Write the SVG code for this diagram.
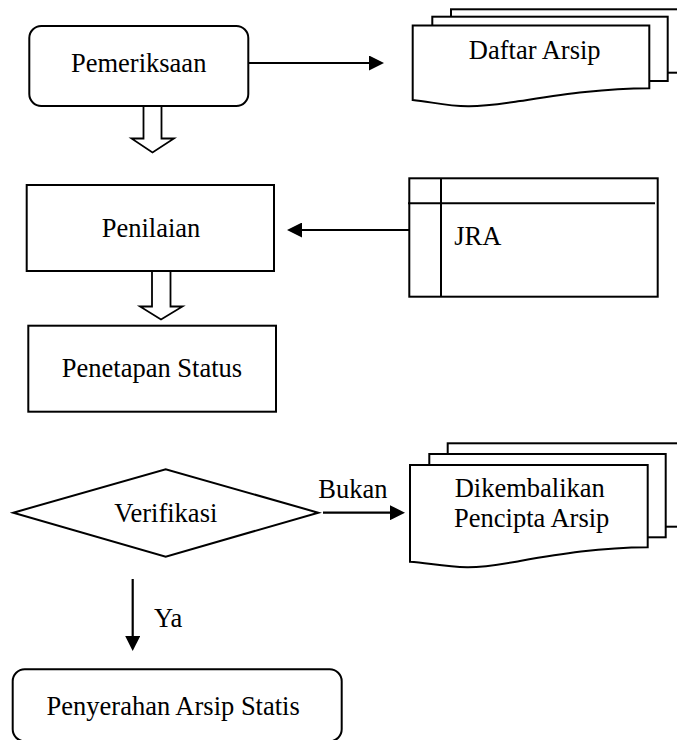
<svg xmlns="http://www.w3.org/2000/svg" width="677" height="740" viewBox="0 0 677 740">
<style>
  .shape { fill: #ffffff; stroke: #000000; stroke-width: 2; stroke-linejoin: miter; }
  .line { fill: none; stroke: #000000; stroke-width: 2; }
  .conn { fill: none; stroke: #000000; stroke-width: 2.2; }
  .hollow { fill: #ffffff; stroke: #000000; stroke-width: 1.8; stroke-linejoin: miter; }
  text { font-family: 'Liberation Serif', 'Times New Roman', 'DejaVu Serif', serif; font-size: 26.5px; fill: #000000; }
  .mid { text-anchor: middle; }
</style>
<defs>
  <marker id="head" markerUnits="userSpaceOnUse" markerWidth="15" markerHeight="15" viewBox="0 0 15 15" refX="7" refY="7.5" orient="auto">
    <path d="M0,0 L15,7.5 L0,15 Z" fill="#000000"/>
  </marker>
</defs>
<rect width="677" height="740" fill="#ffffff"/>

<g font-family="Liberation Serif, Times New Roman, DejaVu Serif, serif" font-size="26.5">
<g id="connectors">
  <line class="conn" x1="248" y1="63" x2="376" y2="63" marker-end="url(#head)"/>
  <line class="conn" x1="409" y1="230" x2="295" y2="230" marker-end="url(#head)"/>
  <line class="conn" x1="323" y1="512.7" x2="397" y2="512.7" marker-end="url(#head)"/>
  <line class="conn" x1="132.7" y1="579" x2="132.7" y2="643" marker-end="url(#head)"/>
  <polygon id="flow1" class="hollow" points="143.5,106 161.5,106 161.5,138.5 174,138.5 152.5,152.5 131.5,138.5 143.5,138.5"/>
  <polygon id="flow2" class="hollow" points="152,271 170.5,271 170.5,306.5 182.5,306.5 161,319.5 140,306.5 152,306.5"/>
  <text x="318.3" y="498.3">Bukan</text>
  <text x="154" y="626.7">Ya</text>
</g>

<g id="pemeriksaan">
  <rect class="shape" x="29.3" y="26" width="219" height="80" rx="12" ry="12"/>
  <text class="mid" x="138.7" y="71.7">Pemeriksaan</text>
</g>

<g id="daftar-arsip">
  <rect class="shape" x="451" y="9.3" width="240" height="63.4"/>
  <rect class="shape" x="432.3" y="16.7" width="235.4" height="64.3"/>
  <path class="shape" d="M412.7,25.5 L649.3,25.5 L649.3,88.3 C600,88.5 560,95 520,101 C500,104 485,106.5 468,106.3 C445,106 430,101.5 412.7,100 Z"/>
  <text class="mid" x="534.7" y="59.3">Daftar Arsip</text>
</g>

<g id="penilaian">
  <rect class="shape" x="26.7" y="185" width="247.3" height="86"/>
  <text class="mid" x="151" y="237.3">Penilaian</text>
</g>

<g id="jra">
  <rect class="shape" x="409.3" y="178.3" width="248.4" height="118.4"/>
  <line class="line" x1="441" y1="178.3" x2="441" y2="296.7"/>
  <line class="line" x1="408" y1="203.3" x2="655" y2="203.3"/>
  <text x="454.3" y="245">JRA</text>
</g>

<g id="penetapan-status">
  <rect class="shape" x="28.3" y="325.7" width="247.7" height="86"/>
  <text class="mid" x="152" y="377.3">Penetapan Status</text>
</g>

<g id="verifikasi">
  <polygon class="shape" points="13.3,512.7 165.7,469.3 318.3,512.7 165.7,556.7"/>
  <text class="mid" x="165.8" y="521.7">Verifikasi</text>
</g>

<g id="dikembalikan">
  <rect class="shape" x="447.7" y="443.3" width="245" height="83.4"/>
  <rect class="shape" x="429.3" y="454" width="236.4" height="83.3"/>
  <path class="shape" d="M410,465 L647.7,465 L647.7,547.3 C600,547.5 560,554 520,561 C500,564.5 485,567.5 467,567.3 C445,567 428,563 410,561.7 Z"/>
  <text class="mid" x="529.8" y="496.7">Dikembalikan</text>
  <text class="mid" x="531.7" y="526.7">Pencipta Arsip</text>
</g>

<g id="penyerahan">
  <rect class="shape" x="12.7" y="669.3" width="329" height="72" rx="12" ry="12"/>
  <text class="mid" x="173.2" y="715">Penyerahan Arsip Statis</text>
</g>
</g>
</svg>
